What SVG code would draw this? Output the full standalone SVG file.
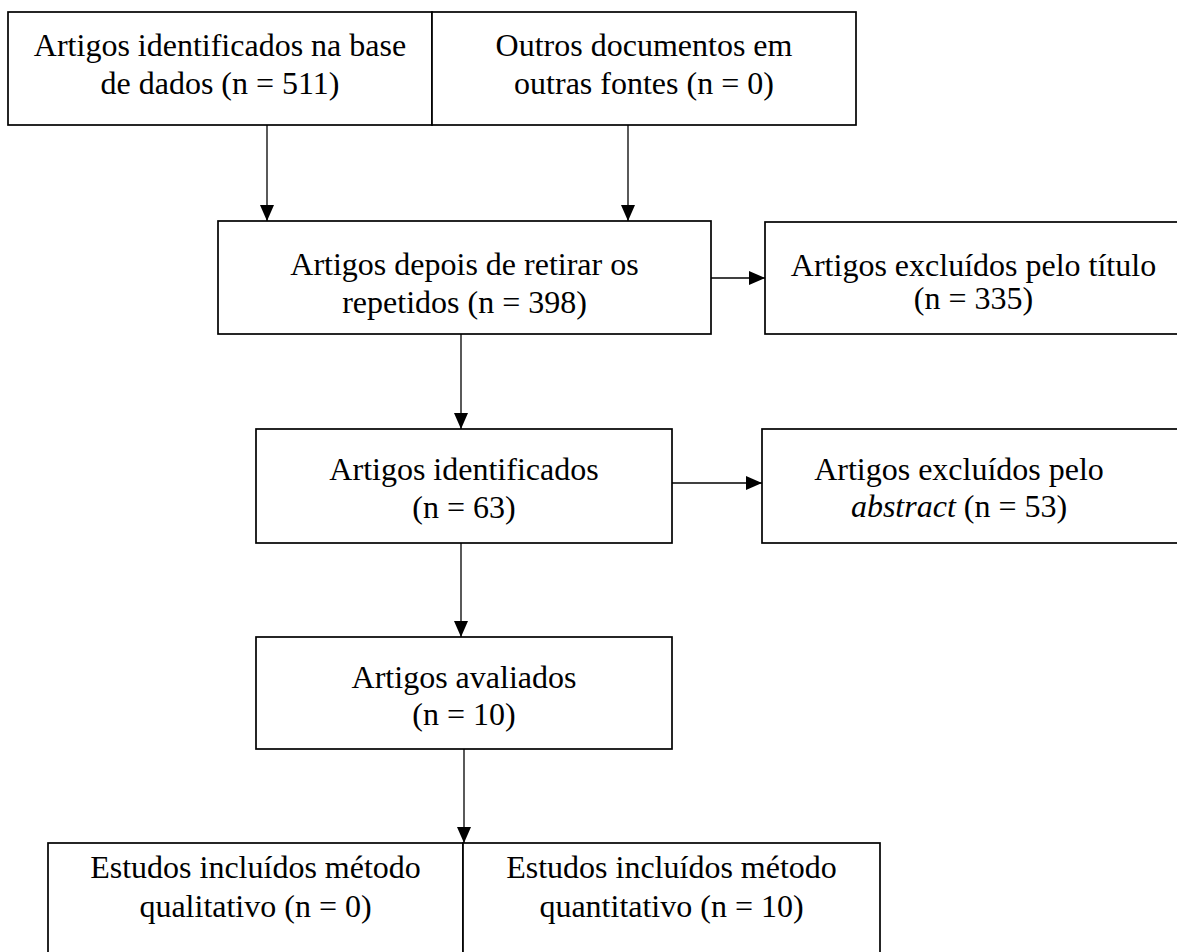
<svg xmlns="http://www.w3.org/2000/svg" width="1177" height="952" viewBox="0 0 1177 952">
  <style>
    .box { fill: #ffffff; stroke: #000000; stroke-width: 1.7; }
    .lbl { font-family: "Liberation Serif", "Times New Roman", serif; font-size: 32px; fill: #000000; text-anchor: middle; }
    .conn { stroke: #000000; stroke-width: 1.3; fill: none; marker-end: url(#head); }
  </style>
  <defs>
    <marker id="head" markerUnits="userSpaceOnUse" markerWidth="16" markerHeight="14" refX="16" refY="7" orient="auto">
      <path d="M0,0 L16,7 L0,14 z" fill="#000000"/>
    </marker>
  </defs>
  <rect width="1177" height="952" fill="#ffffff"/>

  <!-- sources -->
  <g id="db">
    <rect class="box" x="8" y="12" width="424" height="113"/>
    <text class="lbl" x="220" y="56">Artigos identificados na base</text>
    <text class="lbl" x="220" y="94">de dados (n = 511)</text>
  </g>
  <g id="other">
    <rect class="box" x="432" y="12" width="424" height="113"/>
    <text class="lbl" x="644" y="56">Outros documentos em</text>
    <text class="lbl" x="644" y="94">outras fontes (n = 0)</text>
  </g>

  <!-- screening -->
  <g id="dedup">
    <rect class="box" x="218" y="221" width="493" height="113"/>
    <text class="lbl" x="464.5" y="275">Artigos depois de retirar os</text>
    <text class="lbl" x="464.5" y="313">repetidos (n = 398)</text>
  </g>
  <g id="excl-title">
    <rect class="box" x="765" y="222" width="420" height="112"/>
    <text class="lbl" x="973.5" y="276">Artigos excluídos pelo título</text>
    <text class="lbl" x="973.5" y="309">(n = 335)</text>
  </g>
  <g id="identified">
    <rect class="box" x="256" y="429" width="416" height="114"/>
    <text class="lbl" x="464" y="480">Artigos identificados</text>
    <text class="lbl" x="464" y="518">(n = 63)</text>
  </g>
  <g id="excl-abstract">
    <rect class="box" x="762" y="429" width="420" height="114"/>
    <text class="lbl" x="959" y="480">Artigos excluídos pelo</text>
    <text class="lbl" x="959" y="517"><tspan font-style="italic">abstract</tspan> (n = 53)</text>
  </g>
  <g id="assessed">
    <rect class="box" x="256" y="637" width="416" height="112"/>
    <text class="lbl" x="464" y="688">Artigos avaliados</text>
    <text class="lbl" x="464" y="725">(n = 10)</text>
  </g>

  <!-- included -->
  <g id="qualitative">
    <rect class="box" x="48" y="843" width="415" height="130"/>
    <text class="lbl" x="255.5" y="878">Estudos incluídos método</text>
    <text class="lbl" x="255.5" y="917">qualitativo (n = 0)</text>
  </g>
  <g id="quantitative">
    <rect class="box" x="463" y="843" width="417" height="130"/>
    <text class="lbl" x="671.5" y="878">Estudos incluídos método</text>
    <text class="lbl" x="671.5" y="917">quantitativo (n = 10)</text>
  </g>

  <g id="connectors">
    <line class="conn" x1="267" y1="125" x2="267" y2="221"/>
    <line class="conn" x1="628" y1="125" x2="628" y2="221"/>
    <line class="conn" x1="711" y1="278" x2="765" y2="278"/>
    <line class="conn" x1="461" y1="334" x2="461" y2="429"/>
    <line class="conn" x1="672" y1="483" x2="762" y2="483"/>
    <line class="conn" x1="461" y1="543" x2="461" y2="637"/>
    <line class="conn" x1="464" y1="749" x2="464" y2="843"/>
  </g>
</svg>
